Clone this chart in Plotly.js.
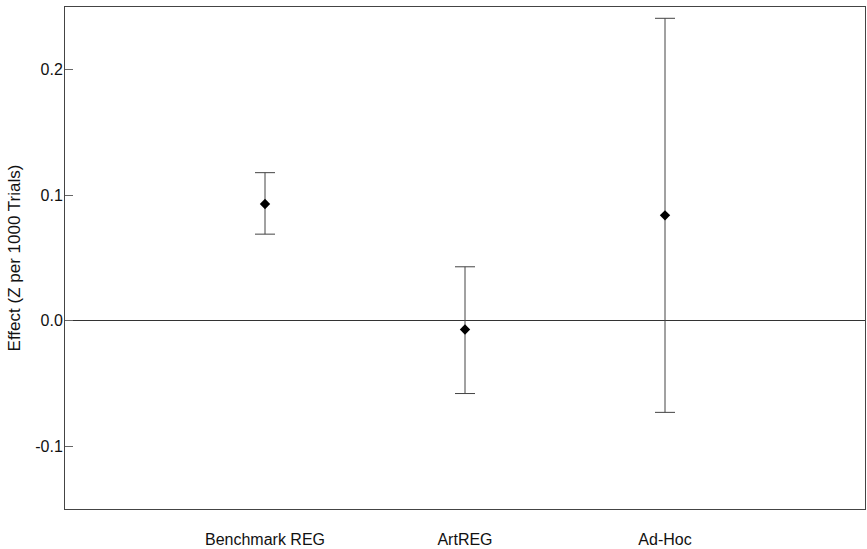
<!DOCTYPE html>
<html>
<head>
<meta charset="utf-8">
<script src="https://cdn.plot.ly/plotly-3.0.1.min.js"></script>
<style>html,body{margin:0;padding:0;background:#fff;}#chart{width:867px;height:549px;}</style>
</head>
<body>
<div id="chart"></div>
<script>
const categories = ["Benchmark REG", "ArtREG", "Ad-Hoc"];
const effects = [0.093, -0.007, 0.084];
const upper = [0.118, 0.043, 0.241];
const lower = [0.069, -0.058, -0.073];
const yTickVals = [-0.1, 0.0, 0.1, 0.2];
const yTickText = ["-0.1", "0.0", "0.1", "0.2"];

const errPlus = effects.map((v, i) => upper[i] - v);
const errMinus = effects.map((v, i) => v - lower[i]);

const trace = {
  type: "scatter",
  mode: "markers",
  x: categories,
  y: effects,
  marker: {symbol: "diamond", size: 8, color: "#000"},
  error_y: {
    type: "data",
    symmetric: false,
    array: errPlus,
    arrayminus: errMinus,
    color: "#444",
    thickness: 1,
    width: 10
  },
  hoverinfo: "skip"
};

const layout = {
  width: 867,
  height: 549,
  margin: {l: 65, r: 2, t: 7, b: 40},
  paper_bgcolor: "#fff",
  plot_bgcolor: "#fff",
  showlegend: false,
  font: {family: "Liberation Sans, Arial, sans-serif", size: 16, color: "#111"},
  xaxis: {
    type: "category",
    range: [-1, 3],
    showgrid: false,
    zeroline: false,
    showline: true,
    mirror: true,
    linecolor: "#444",
    linewidth: 1,
    ticks: "",
    ticklabelstandoff: 16,
    tickfont: {size: 16}
  },
  yaxis: {
    range: [-0.15, 0.25],
    tickvals: yTickVals,
    ticktext: yTickText,
    ticks: "inside",
    ticklen: 8,
    tickcolor: "#666",
    showgrid: false,
    zeroline: true,
    zerolinecolor: "#333",
    zerolinewidth: 1,
    showline: true,
    mirror: true,
    linecolor: "#444",
    linewidth: 1,
    ticklabelstandoff: -2,
    tickfont: {size: 16},
    title: {text: "Effect (Z per 1000 Trials)", font: {size: 17}, standoff: 10}
  }
};

Plotly.newPlot("chart", [trace], layout, {displayModeBar: false, staticPlot: true});
</script>
</body>
</html>
